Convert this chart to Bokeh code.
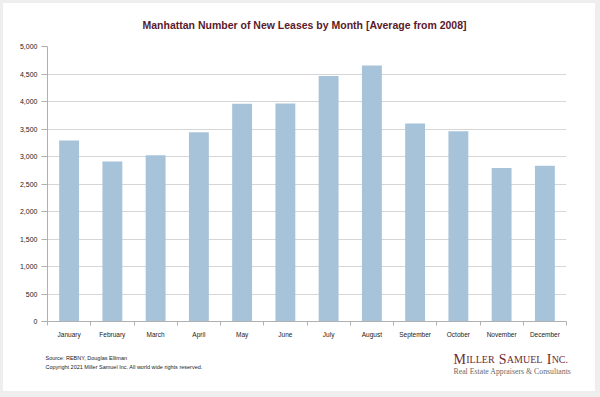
from bokeh.plotting import figure
from bokeh.layouts import column, row
from bokeh.models import Range1d, FixedTicker, NumeralTickFormatter, ColumnDataSource, Spacer
from bokeh.core.properties import value
from bokeh.embed import file_html
from bokeh.resources import INLINE

months = ["January", "February", "March", "April", "May", "June", "July",
          "August", "September", "October", "November", "December"]
leases = [3290, 2910, 3025, 3440, 3960, 3965, 4465, 4655, 3600, 3460, 2790, 2830]
y_ticks = [0, 500, 1000, 1500, 2000, 2500, 3000, 3500, 4000, 4500, 5000]
title_text = "Manhattan Number of New Leases by Month [Average from 2008]"
source_text = "Source: REBNY, Douglas Elliman"
copyright_text = "Copyright 2021 Miller Samuel Inc.  All world wide rights reserved."
logo_parts = ["M", "ILLER", "S", "AMUEL", "I", "NC."]
tagline = "Real Estate Appraisers & Consultants"

# page geometry (pixels)
PW, PH = 600, 397
BL, BR, BT, BB = 3, 5, 3, 6          # light grey frame around the white panel
W = PW - BL - BR
HEAD_H, MAIN_H = 40 - BT, 300
FOOT_H = PH - BT - BB - HEAD_H - MAIN_H
FL, FR = 47, 566                     # plot frame edges in page pixels
GREY = "#eeeeee"


def blank(h, y0):
    f = figure(width=W, height=h, output_backend="svg", toolbar_location=None,
               x_range=Range1d(BL, BL + W), y_range=Range1d(y0 + h, y0),
               x_axis_location=None, y_axis_location=None,
               min_border=0, min_border_left=0, min_border_right=0,
               min_border_top=0, min_border_bottom=0, outline_line_color=None,
               background_fill_color="white", border_fill_color="white")
    f.grid.visible = False
    return f


# ---- header with title
head = blank(HEAD_H, BT)
head.text(x=[304], y=[24], text=[title_text], text_font=value("Liberation Sans"),
          text_font_size=value("10.5px"), text_font_style="bold", text_color="#5a1a2a",
          text_align="center", text_baseline="middle")

# ---- main chart
centers = [i + 0.5 for i in range(len(months))]
bounds = [float(i) for i in range(len(months) + 1)]

p = figure(width=W, height=MAIN_H, output_backend="svg", toolbar_location=None,
           x_range=Range1d(0, len(months)), y_range=Range1d(0, 5000),
           min_border_left=FL - BL, min_border_right=BL + W - FR, min_border_top=6,
           min_border_bottom=18, outline_line_color=None,
           background_fill_color="white", border_fill_color="white")

src = ColumnDataSource(dict(x=centers, top=leases))
p.vbar(x="x", top="top", width=0.46, source=src, fill_color="#a7c3d9", line_color=None)

p.xgrid.grid_line_color = None
p.ygrid.ticker = FixedTicker(ticks=y_ticks)
p.ygrid.grid_line_color = "#d6d6d6"
p.ygrid.grid_line_width = 1

xa = p.xaxis[0]
xa.ticker = FixedTicker(ticks=centers, minor_ticks=bounds)
xa.major_label_overrides = {c: m for c, m in zip(centers, months)}
xa.major_tick_line_color = None
xa.minor_tick_line_color = "#b0b0b0"
xa.minor_tick_out = 4
xa.minor_tick_in = 0
xa.axis_line_color = "#b0b0b0"
xa.major_label_text_font = "Liberation Sans"
xa.major_label_text_font_size = "6.5px"
xa.major_label_text_color = "#222222"
xa.major_label_standoff = 3

ya = p.yaxis[0]
ya.ticker = FixedTicker(ticks=y_ticks)
ya.formatter = NumeralTickFormatter(format="0,0")
ya.axis_line_color = "#b0b0b0"
ya.major_tick_line_color = "#b0b0b0"
ya.major_tick_out = 6
ya.major_tick_in = 0
ya.minor_tick_line_color = None
ya.major_label_text_font = "Liberation Sans"
ya.major_label_text_font_size = "7px"
ya.major_label_text_color = "#222222"
ya.major_label_standoff = 4

# ---- footer
y0 = BT + HEAD_H + MAIN_H
foot = blank(FOOT_H, y0)
foot.text(x=[45, 45], y=[357.5, 366], text=[source_text, copyright_text],
          text_font=value("Liberation Sans"), text_font_size=value("5.5px"),
          text_color="#222222", text_align="left", text_baseline="middle")

maroon = "#6e2a33"
sizes = ["14px", "10px", "14px", "10px", "14px", "10px"]
advance = [12.45 + 0.3, 28.3 + 4.2, 7.8 + 0.3, 35.6 + 4.2, 4.7 + 0.3, 16.4]
xs = []
x = 453.0
for a in advance:
    xs.append(x)
    x += a
foot.text(x=xs, y=[359.3] * len(xs), text=logo_parts, text_font=value("Liberation Serif"),
          text_font_size=sizes, text_color=maroon, text_align="left",
          text_baseline="alphabetic")
foot.text(x=[453], y=[370.5], text=[tagline], text_font=value("Liberation Serif"),
          text_font_size=value("7.8px"), text_color="#6a6a6a", text_align="left",
          text_baseline="middle")


def grey(w, h):
    return Spacer(width=w, height=h, styles={"background-color": GREY})


inner = column(row(head), p, row(foot), spacing=0)
mid = row(grey(BL, PH - BT - BB), inner, grey(BR, PH - BT - BB), spacing=0)
layout = column(grey(PW, BT), mid, grey(PW, BB), spacing=0)
open("out.html", "w").write(file_html(layout, INLINE))
